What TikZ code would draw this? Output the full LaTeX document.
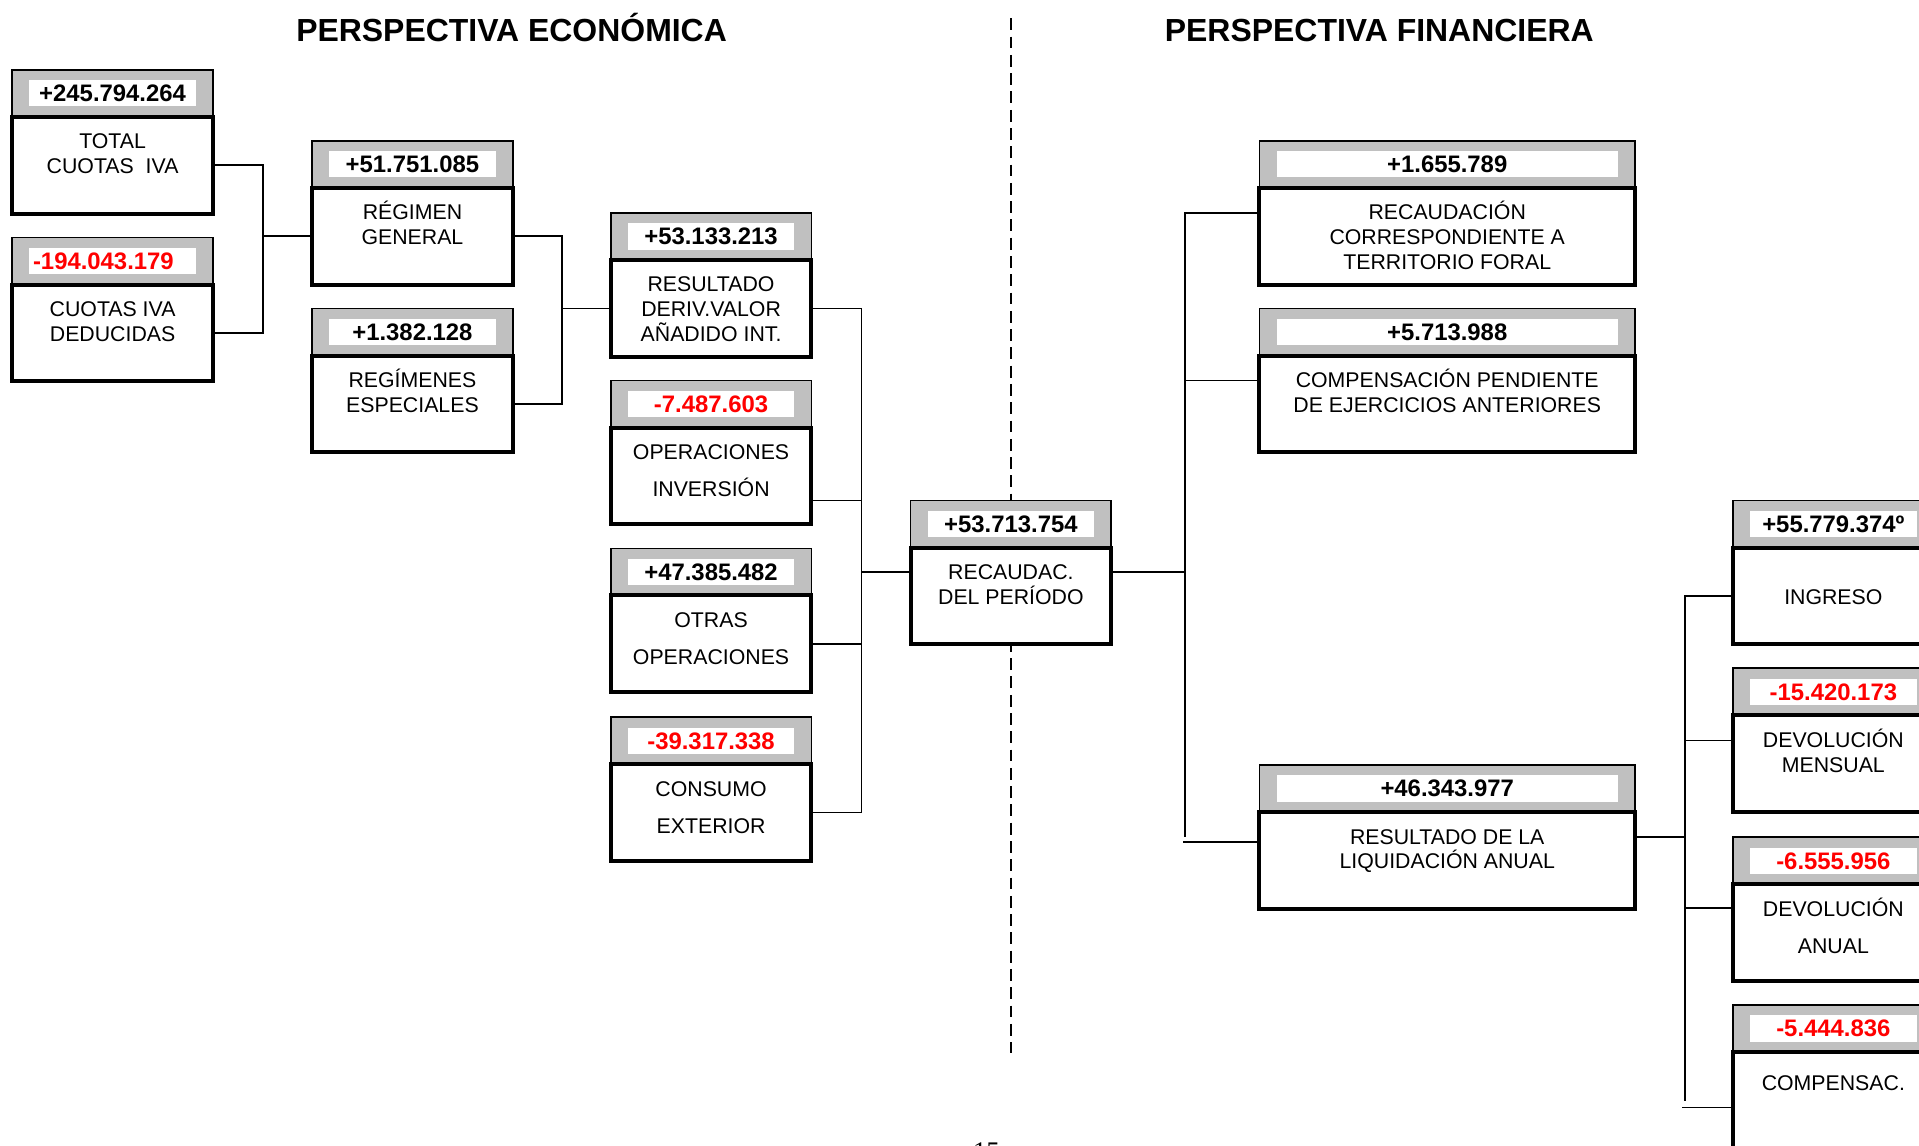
\documentclass[tikz,border=0pt]{standalone}
\usepackage{fontspec}
\setmainfont{Liberation Sans}
\newfontfamily\serifa{Liberation Serif}
\usetikzlibrary{positioning}
\definecolor{gris}{HTML}{C0C0C0}
\definecolor{rojo}{HTML}{FF0000}
\tikzset{
	cabecera/.style={draw, fill=gris, line width=0.75pt, minimum width=3.28cm, minimum height=0.77cm, inner sep=0pt, outer sep=0pt, anchor=north west},
	cifra/.style={fill=white, minimum width=2.72cm, minimum height=0.43cm, inner sep=0pt, text depth=0pt, font=\bfseries\fontsize{11.1}{13}\selectfont},
	cuerpo/.style={draw, fill=white, line width=1.85pt, minimum width=3.28cm, minimum height=1.58cm, inner sep=0pt, outer sep=0pt},
	ancha/.style={minimum width=6.14cm},
	texto/.style={align=center, anchor=base, inner sep=0pt, font=\fontsize{9.9}{11.55}\selectfont},
	textoamplio/.style={texto, font=\fontsize{9.9}{17.35}\selectfont},
	enlace/.style={line width=0.75pt},
	divisoria/.style={line width=0.65pt, dash pattern=on 5.5pt off 3pt},
	titulo/.style={anchor=base, inner sep=0pt, font=\bfseries\fontsize{14.85}{17}\selectfont}
}
\begin{document}
\begin{tikzpicture}
	\useasboundingbox (0,0) rectangle (31.36,-18.72);
	\draw[divisoria] (16.52,-0.3) -- (16.52,-17.2);
	\node[titulo] (teco) at (8.36,-0.67) {PERSPECTIVA ECONÓMICA};
	\node[titulo] (tfin) at (22.54,-0.67) {PERSPECTIVA FINANCIERA};

	\node[cabecera] (a1c) at (0.2,-1.14) {};
	\node[cifra] (a1n) at (a1c) {+245.794.264};
	\node[cuerpo, below=0pt of a1c] (a1) {};
	\node[texto] (a1t) at ([yshift=-0.93cm]a1.north) {TOTAL\\CUOTAS~~IVA};

	\node[cabecera] (a2c) at (0.2,-3.88) {};
	\node[cifra, text=rojo, text width=2.6cm, align=left] (a2n) at (a2c) {-194.043.179};
	\node[cuerpo, below=0pt of a2c] (a2) {};
	\node[texto] (a2t) at ([yshift=-0.93cm]a2.north) {CUOTAS IVA\\DEDUCIDAS};

	\node[cabecera] (b1c) at (5.1,-2.3) {};
	\node[cifra] (b1n) at (b1c) {+51.751.085};
	\node[cuerpo, below=0pt of b1c] (b1) {};
	\node[texto] (b1t) at ([yshift=-0.93cm]b1.north) {RÉGIMEN\\GENERAL};

	\node[cabecera] (b2c) at (5.1,-5.04) {};
	\node[cifra] (b2n) at (b2c) {+1.382.128};
	\node[cuerpo, below=0pt of b2c] (b2) {};
	\node[texto] (b2t) at ([yshift=-0.93cm]b2.north) {REGÍMENES\\ESPECIALES};

	\node[cabecera] (c1c) at (9.98,-3.48) {};
	\node[cifra] (c1n) at (c1c) {+53.133.213};
	\node[cuerpo, below=0pt of c1c] (c1) {};
	\node[texto] (c1t) at ([yshift=-1.33cm]c1.north) {RESULTADO\\DERIV.VALOR\\AÑADIDO INT.};

	\node[cabecera] (c2c) at (9.98,-6.22) {};
	\node[cifra, text=rojo] (c2n) at (c2c) {-7.487.603};
	\node[cuerpo, below=0pt of c2c] (c2) {};
	\node[textoamplio] (c2t) at ([yshift=-1.13cm]c2.north) {OPERACIONES\\INVERSIÓN};

	\node[cabecera] (c3c) at (9.98,-8.96) {};
	\node[cifra] (c3n) at (c3c) {+47.385.482};
	\node[cuerpo, below=0pt of c3c] (c3) {};
	\node[textoamplio] (c3t) at ([yshift=-1.13cm]c3.north) {OTRAS\\OPERACIONES};

	\node[cabecera] (c4c) at (9.98,-11.72) {};
	\node[cifra, text=rojo] (c4n) at (c4c) {-39.317.338};
	\node[cuerpo, below=0pt of c4c] (c4) {};
	\node[textoamplio] (c4t) at ([yshift=-1.13cm]c4.north) {CONSUMO\\EXTERIOR};

	\node[cabecera] (d1c) at (14.88,-8.18) {};
	\node[cifra] (d1n) at (d1c) {+53.713.754};
	\node[cuerpo, below=0pt of d1c] (d1) {};
	\node[texto] (d1t) at ([yshift=-0.93cm]d1.north) {RECAUDAC.\\DEL PERÍODO};

	\node[cabecera, ancha] (e1c) at (20.58,-2.3) {};
	\node[cifra, minimum width=5.58cm] (e1n) at (e1c) {+1.655.789};
	\node[cuerpo, ancha, below=0pt of e1c] (e1) {};
	\node[texto] (e1t) at ([yshift=-1.33cm]e1.north) {RECAUDACIÓN\\CORRESPONDIENTE A\\TERRITORIO FORAL};

	\node[cabecera, ancha] (e2c) at (20.58,-5.04) {};
	\node[cifra, minimum width=5.58cm] (e2n) at (e2c) {+5.713.988};
	\node[cuerpo, ancha, below=0pt of e2c] (e2) {};
	\node[texto] (e2t) at ([yshift=-0.93cm]e2.north) {COMPENSACIÓN PENDIENTE\\DE EJERCICIOS ANTERIORES};

	\node[cabecera, ancha] (e3c) at (20.58,-12.5) {};
	\node[cifra, minimum width=5.58cm] (e3n) at (e3c) {+46.343.977};
	\node[cuerpo, ancha, below=0pt of e3c] (e3) {};
	\node[texto] (e3t) at ([yshift=-0.93cm]e3.north) {RESULTADO DE LA\\LIQUIDACIÓN ANUAL};

	\node[cabecera] (f1c) at (28.32,-8.18) {};
	\node[cifra] (f1n) at (f1c) {+55.779.374º};
	\node[cuerpo, below=0pt of f1c] (f1) {};
	\node[texto] (f1t) at ([yshift=-0.93cm]f1.north) {INGRESO};

	\node[cabecera] (f2c) at (28.32,-10.92) {};
	\node[cifra, text=rojo] (f2n) at (f2c) {-15.420.173};
	\node[cuerpo, below=0pt of f2c] (f2) {};
	\node[texto] (f2t) at ([yshift=-0.93cm]f2.north) {DEVOLUCIÓN\\MENSUAL};

	\node[cabecera] (f3c) at (28.32,-13.68) {};
	\node[cifra, text=rojo] (f3n) at (f3c) {-6.555.956};
	\node[cuerpo, below=0pt of f3c] (f3) {};
	\node[textoamplio] (f3t) at ([yshift=-1.13cm]f3.north) {DEVOLUCIÓN\\ANUAL};

	\node[cabecera] (f4c) at (28.32,-16.42) {};
	\node[cifra, text=rojo] (f4n) at (f4c) {-5.444.836};
	\node[cuerpo, below=0pt of f4c] (f4) {};
	\node[texto] (f4t) at ([yshift=-0.635cm]f4.north) {COMPENSAC.};

	\draw[enlace] (a1.east) -- ++(0.82,0) |- (a2.east);
	\draw[enlace] (b1.west) -- ++(-0.8,0);
	\draw[enlace] (b1.east) -- ++(0.8,0) |- (b2.east);
	\draw[enlace] (c1.west) -- ++(-0.8,0);
	\draw[enlace] (c1.east) -- ++(0.82,0) |- (c4.east);
	\draw[enlace] ([yshift=-1.19cm]c2.north east) -- ++(0.82,0);
	\draw[enlace] (c3.east) -- ++(0.82,0);
	\draw[enlace] ([yshift=-0.4cm]d1.north west) -- ++(-0.8,0);
	\draw[enlace] ([yshift=-0.4cm]d1.north east) -- ++(1.2,0);

	\coordinate (busE) at ([xshift=-1.22cm]e1.west);
	\coordinate (e3i) at ([yshift=-0.49cm]e3.north west);
	\coordinate (e3d) at ([yshift=-0.41cm]e3.north east);
	\draw[enlace] ([yshift=-0.41cm]e1.north west) -| (busE |- e3d);
	\draw[enlace] ([yshift=-0.41cm]e2.north west) -- ++(-1.22,0);
	\draw[enlace] (e3i) -- ++(-1.25,0);

	\coordinate (f4i) at ([yshift=-0.91cm]f4.north west);
	\coordinate (f4v) at ([yshift=-0.81cm]f4.north west);
	\draw[enlace] (e3d) -- ++(0.82,0) coordinate (busF);
	\draw[enlace] (f1.west) -| (busF |- f4v);
	\draw[enlace] ([yshift=-0.41cm]f2.north west) -- ++(-0.78,0);
	\draw[enlace] ([yshift=-0.39cm]f3.north west) -- ++(-0.78,0);
	\draw[enlace] (f4i) -- ++(-0.84,0);

	\node[font=\serifa\fontsize{12.5}{14}\selectfont, anchor=base, inner sep=0pt] (pagina) at (16.12,-18.97) {15};
\end{tikzpicture}
\end{document}
